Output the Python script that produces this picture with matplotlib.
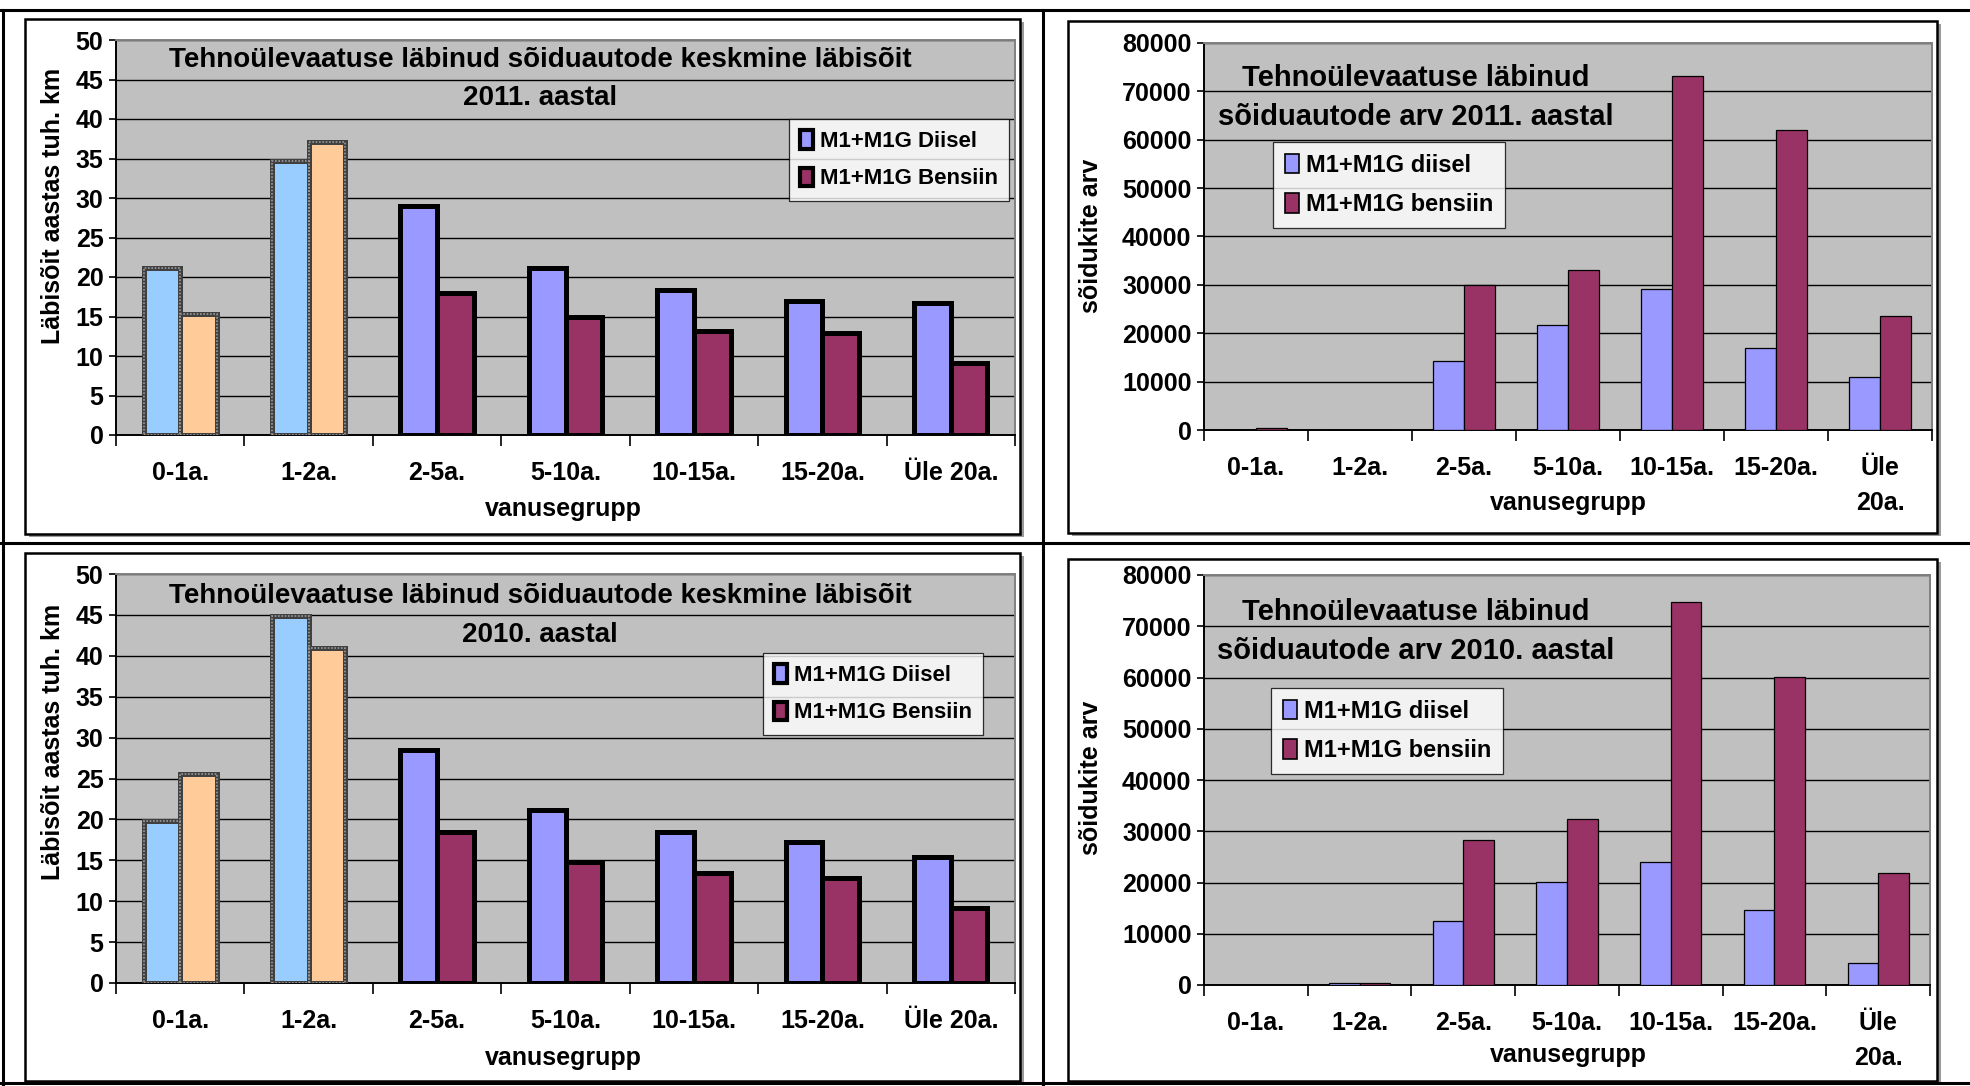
import matplotlib
matplotlib.use('Agg')
import matplotlib.pyplot as plt
from matplotlib.patches import Rectangle, Patch
from matplotlib.lines import Line2D
from matplotlib import font_manager
import numpy as np

names = {f.name for f in font_manager.fontManager.ttflist}
NARROW = 'Liberation Sans Narrow' if 'Liberation Sans Narrow' in names else 'Liberation Sans'
plt.rcParams['font.family'] = [NARROW, 'DejaVu Sans']
plt.rcParams['font.weight'] = 'bold'

W, H = 1970, 1086

groups_km = ['0-1a.', '1-2a.', '2-5a.', '5-10a.', '10-15a.', '15-20a.', 'Üle 20a.']
groups_arv = ['0-1a.', '1-2a.', '2-5a.', '5-10a.', '10-15a.', '15-20a.', 'Üle\n20a.']

km_2011_diisel = [21.2, 34.7, 29.0, 21.2, 18.3, 17.0, 16.7]
km_2011_bensiin = [15.3, 37.1, 18.0, 15.0, 13.2, 12.9, 9.1]
km_2010_diisel = [19.8, 44.9, 28.5, 21.1, 18.5, 17.2, 15.4]
km_2010_bensiin = [25.5, 40.9, 18.5, 14.8, 13.5, 12.8, 9.2]

arv_2011_diisel = [100, 0, 14300, 21800, 29100, 16900, 10900]
arv_2011_bensiin = [400, 0, 29900, 33000, 73200, 62100, 23600]
arv_2010_diisel = [0, 300, 12500, 20100, 24000, 14700, 4200]
arv_2010_bensiin = [0, 300, 28200, 32400, 74800, 60100, 21800]

fig = plt.figure(figsize=(W / 100, H / 100), dpi=100)


def fx(x):
    return x / W


def fy(y):
    return 1 - y / H


def hline(y, x0, x1, lw=2.2):
    fig.add_artist(Line2D([fx(x0), fx(x1)], [fy(y), fy(y)], color='black', lw=lw, zorder=-2))


def vline(x, y0, y1, lw=2.2):
    fig.add_artist(Line2D([fx(x), fx(x)], [fy(y0), fy(y1)], color='black', lw=lw, zorder=-2))


def frame(x0, y0, x1, y1):
    fig.add_artist(Rectangle((fx(x0) + 0.002, fy(y1) - 0.003), fx(x1 - x0), (y1 - y0) / H,
                             facecolor='#9a9a9a', edgecolor='none', zorder=-4))
    fig.add_artist(Rectangle((fx(x0), fy(y1)), fx(x1 - x0), (y1 - y0) / H,
                             facecolor='white', edgecolor='black', lw=1.8, zorder=-3))


def axes_px(x0, y0, x1, y1):
    return fig.add_axes([fx(x0), fy(y1), fx(x1 - x0), (y1 - y0) / H])


# table lines
hline(10, 0, W)
hline(543, 0, W)
hline(1083, 0, W)
vline(3, 10, H)
vline(1043, 10, H)

frame(25, 19, 1020, 534)
frame(1068, 21, 1937, 533)
frame(25, 553, 1020, 1081)
frame(1068, 559, 1937, 1081)


def style_axes(ax, ymax, ystep, labels, pad):
    ax.set_facecolor('#C0C0C0')
    ax.set_xlim(-0.5, 6.5)
    ax.set_ylim(0, ymax)
    ax.set_yticks(np.arange(0, ymax + 1, ystep))
    ax.yaxis.grid(True, color='black', lw=1.0)
    ax.set_axisbelow(True)
    ax.set_xticks(np.arange(7))
    ax.set_xticklabels(labels, fontsize=18, linespacing=1.55)
    ax.set_xticks(np.arange(-0.5, 7, 1), minor=True)
    ax.tick_params(axis='x', which='major', length=0, pad=pad)
    ax.tick_params(axis='x', which='minor', length=8, width=1.2, direction='out')
    ax.tick_params(axis='y', length=5, width=1.2, labelsize=18, pad=4)
    for s in ['left', 'bottom']:
        ax.spines[s].set_color('black')
        ax.spines[s].set_linewidth(1.4)
    for s in ['top', 'right']:
        ax.spines[s].set_color('#808080')
        ax.spines[s].set_linewidth(1.4)


def draw_km(ax, diisel, bensiin):
    x = np.arange(7)
    w = 0.285
    cd = ['#99CCFF'] * 2 + ['#9999FF'] * 5
    cb = ['#FFCC99'] * 2 + ['#993366'] * 5
    ed = ['#404040'] * 2 + ['black'] * 5
    ax.bar(x - w / 2, diisel, w, color=cd, edgecolor=ed, linewidth=3.6, zorder=3)
    ax.bar(x + w / 2, bensiin, w, color=cb, edgecolor=ed, linewidth=3.6, zorder=3)
    # checkered grey border of the first two groups
    ax.bar(x[:2] - w / 2, diisel[:2], w, fill=False, edgecolor='#9a9a9a',
           linewidth=1.2, linestyle=(0, (1, 1)), zorder=4)
    ax.bar(x[:2] + w / 2, bensiin[:2], w, fill=False, edgecolor='#9a9a9a',
           linewidth=1.2, linestyle=(0, (1, 1)), zorder=4)
    style_axes(ax, 50, 5, groups_km, 19)


def draw_arv(ax, diisel, bensiin):
    x = np.arange(7)
    w = 0.295
    ax.bar(x - w / 2, diisel, w, color='#9999FF', edgecolor='black', linewidth=0.9, zorder=3)
    ax.bar(x + w / 2, bensiin, w, color='#993366', edgecolor='black', linewidth=0.9, zorder=3)
    style_axes(ax, 80000, 10000, groups_arv, 19)


# top left
ax1 = axes_px(116, 40, 1015, 435)
draw_km(ax1, km_2011_diisel, km_2011_bensiin)
ax1.text(0.472, 0.949, 'Tehnoülevaatuse läbinud sõiduautode keskmine läbisõit',
         transform=ax1.transAxes, ha='center', va='center', fontsize=20)
ax1.text(0.472, 0.853, '2011. aastal', transform=ax1.transAxes,
         ha='center', va='center', fontsize=20)

# bottom left
ax3 = axes_px(116, 574, 1015, 983)
draw_km(ax3, km_2010_diisel, km_2010_bensiin)
ax3.text(0.472, 0.946, 'Tehnoülevaatuse läbinud sõiduautode keskmine läbisõit',
         transform=ax3.transAxes, ha='center', va='center', fontsize=20)
ax3.text(0.472, 0.852, '2010. aastal', transform=ax3.transAxes,
         ha='center', va='center', fontsize=20)

# top right
ax2 = axes_px(1204, 43, 1932, 430)
draw_arv(ax2, arv_2011_diisel, arv_2011_bensiin)
# bottom right
ax4 = axes_px(1204, 575, 1930, 985)
draw_arv(ax4, arv_2010_diisel, arv_2010_bensiin)

fig.text(fx(1416), fy(78), 'Tehnoülevaatuse läbinud', ha='center', va='center', fontsize=21)
fig.text(fx(1416), fy(117), 'sõiduautode arv 2011. aastal', ha='center', va='center', fontsize=21)
fig.text(fx(1416), fy(612), 'Tehnoülevaatuse läbinud', ha='center', va='center', fontsize=21)
fig.text(fx(1416), fy(651), 'sõiduautode arv 2010. aastal', ha='center', va='center', fontsize=21)

# axis titles
for x, y in [(53, 206), (53, 742)]:
    fig.text(fx(x), fy(y), 'Läbisõit aastas tuh. km', rotation=90, ha='center', va='center',
             fontsize=18, family=['Liberation Sans', 'DejaVu Sans'])
for x, y in [(1091, 236), (1091, 778)]:
    fig.text(fx(x), fy(y), 'sõidukite arv', rotation=90, ha='center', va='center',
             fontsize=18, family=['Liberation Sans', 'DejaVu Sans'])
for x, y in [(563, 509), (1568, 503), (563, 1058), (1568, 1055)]:
    fig.text(fx(x), fy(y), 'vanusegrupp', ha='center', va='center', fontsize=18)

# legends
km_handles = [Patch(facecolor='#9999FF', edgecolor='black', lw=3),
              Patch(facecolor='#993366', edgecolor='black', lw=3)]
arv_handles = [Patch(facecolor='#9999FF', edgecolor='black', lw=1.2),
               Patch(facecolor='#993366', edgecolor='black', lw=1.2)]


def legend(ax, handles, labels, x0, y0, size):
    leg = ax.legend(handles, labels, loc='upper left', bbox_to_anchor=(fx(x0), fy(y0)),
                    bbox_transform=fig.transFigure, fontsize=size, frameon=True, fancybox=False,
                    handlelength=0.6, handleheight=0.9, handletextpad=0.3, labelspacing=0.7,
                    borderpad=0.5, borderaxespad=0)
    leg.get_frame().set_edgecolor('black')
    leg.get_frame().set_linewidth(0.9)
    leg.set_zorder(10)


legend(ax1, km_handles, ['M1+M1G Diisel', 'M1+M1G Bensiin'], 789, 119, 16)
legend(ax3, km_handles, ['M1+M1G Diisel', 'M1+M1G Bensiin'], 763, 653, 16)
legend(ax2, arv_handles, ['M1+M1G diisel', 'M1+M1G bensiin'], 1273, 142, 17)
legend(ax4, arv_handles, ['M1+M1G diisel', 'M1+M1G bensiin'], 1271, 688, 17)

fig.savefig('out.png', dpi=100)
